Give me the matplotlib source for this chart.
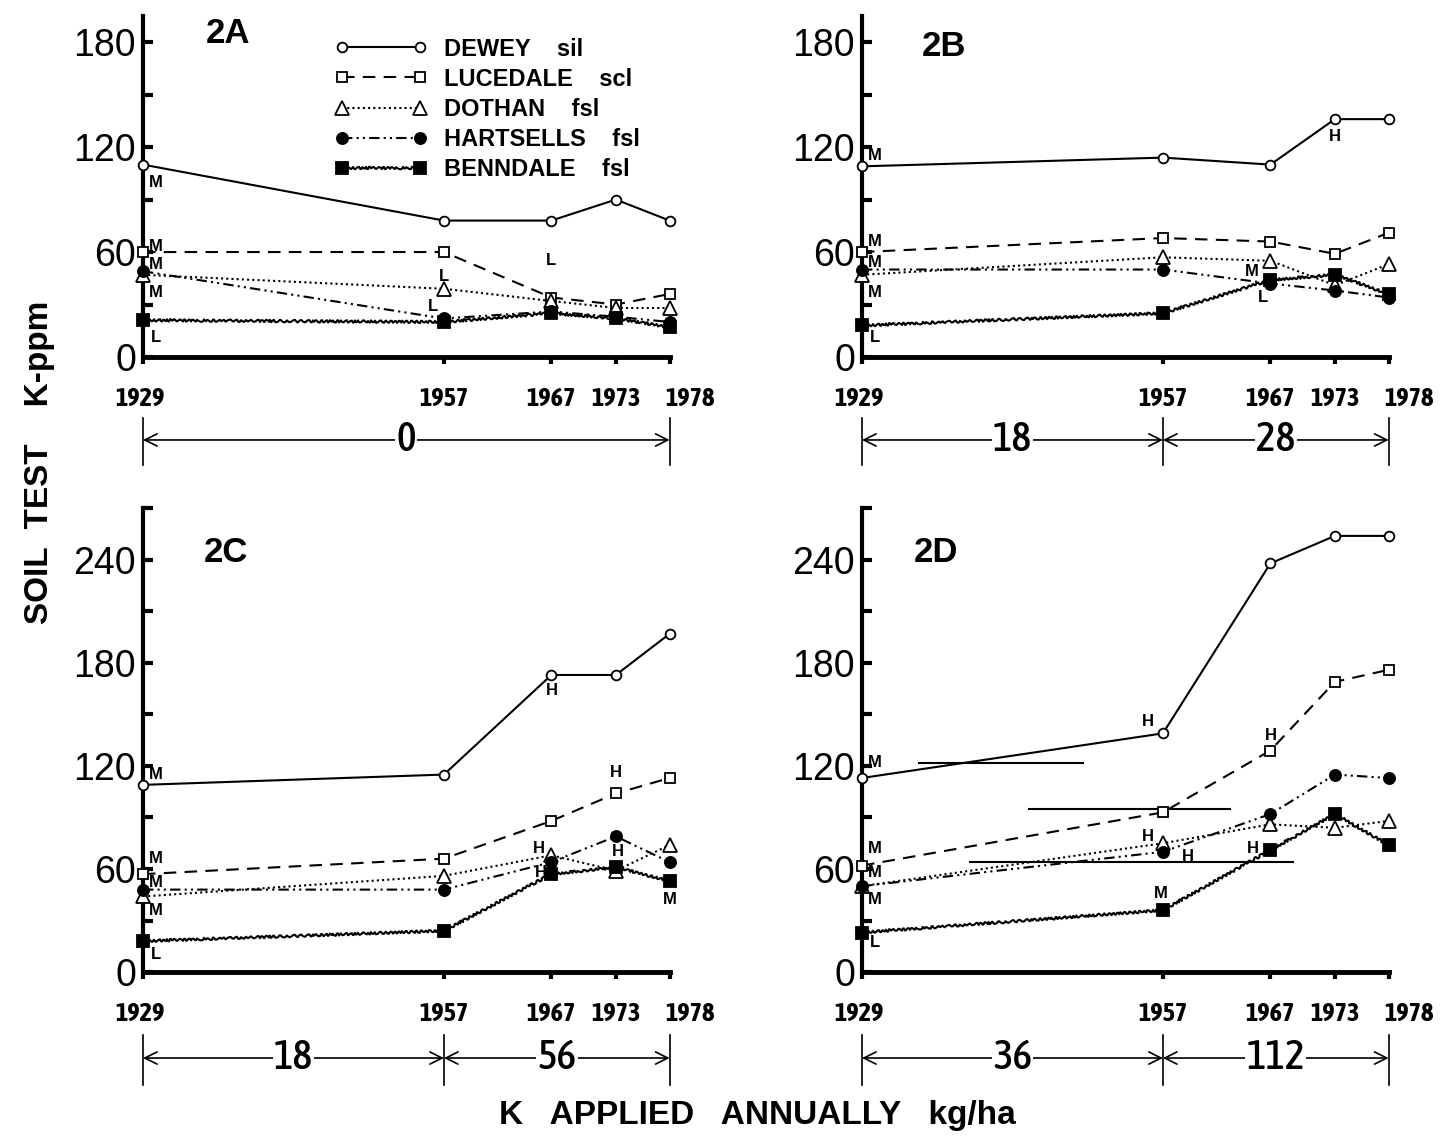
import matplotlib
matplotlib.use("Agg")
import matplotlib.pyplot as plt
from matplotlib import font_manager

names = {f.name for f in font_manager.fontManager.ttflist}
NARROW = "Asap Condensed" if "Asap Condensed" in names else "DejaVu Sans"
plt.rcParams["font.family"] = ["Liberation Sans", "DejaVu Sans"]

years = [1929, 1957, 1967, 1973, 1978]
soils = ["DEWEY", "LUCEDALE", "DOTHAN", "HARTSELLS", "BENNDALE"]
textures = ["sil", "scl", "fsl", "fsl", "fsl"]

# soil test K (ppm), one row per soil in the order above
values_2a = [
    [110, 78, 78, 90, 78],
    [60, 60, 34, 30, 36],
    [47, 39, 32, 28, 28],
    [49, 22, 26, 23, 20],
    [21, 20, 25, 22, 17],
]
values_2b = [
    [109, 114, 110, 136, 136],
    [60, 68, 66, 59, 71],
    [47, 57, 55, 41, 53],
    [50, 50, 42, 38, 34],
    [18, 25, 44, 47, 36],
]
values_2c = [
    [109, 115, 173, 173, 197],
    [57, 66, 88, 104, 113],
    [44, 56, 68, 59, 74],
    [48, 48, 64, 79, 64],
    [18, 24, 57, 61, 53],
]
values_2d = [
    [113, 139, 238, 254, 254],
    [62, 93, 129, 169, 176],
    [50, 75, 86, 84, 88],
    [50, 70, 92, 115, 113],
    [23, 36, 71, 92, 74],
]

# K applied annually (kg/ha) per period
periods_2a = [(1929, 1978, "0")]
periods_2b = [(1929, 1957, "18"), (1957, 1978, "28")]
periods_2c = [(1929, 1957, "18"), (1957, 1978, "56")]
periods_2d = [(1929, 1957, "36"), (1957, 1978, "112")]

# rating letters (year, ppm, letter)
ratings_2a = [(1930.2, 100, "M"), (1930.2, 63, "M"), (1930.2, 53, "M"), (1930.2, 37, "M"),
              (1930.2, 11, "L"), (1957, 46, "L"), (1956, 29, "L"), (1967, 55, "L")]
ratings_2b = [(1930.2, 115, "M"), (1930.2, 66, "M"), (1930.2, 54, "M"), (1930.2, 37, "M"),
              (1930.2, 11, "L"), (1973, 126, "H"), (1965.3, 49, "M"), (1966.3, 34, "L")]
ratings_2c = [(1930.2, 115, "M"), (1930.2, 66, "M"), (1930.2, 52, "M"), (1930.2, 36, "M"),
              (1930.2, 10, "L"), (1967, 164, "H"), (1973, 116, "H"), (1965.8, 72, "H"),
              (1966, 58, "H"), (1973.2, 70, "H"), (1978, 42, "M")]
ratings_2d = [(1930.2, 122, "M"), (1930.2, 72, "M"), (1930.2, 58, "M"), (1930.2, 42, "M"),
              (1930.2, 17, "L"), (1955.6, 146, "H"), (1967, 138, "H"), (1955.6, 79, "H"),
              (1959.3, 67, "H"), (1956.8, 46, "M"), (1965.4, 72, "H")]

# horizontal reference segments in 2D (ppm, from year, to year)
segments_2d = [(122, 1934.2, 1949.7), (95, 1944.4, 1963.3), (64, 1939.0, 1969.2)]

styles = [
    dict(ls="-", marker="o", mfc="white", ms=7),
    dict(ls=(0, (6, 4)), marker="s", mfc="white", ms=7),
    dict(ls=(0, (1, 1.5)), marker="^", mfc="white", ms=10),
    dict(ls=(0, (5, 2, 1, 2, 1, 2)), marker="o", mfc="black", ms=8),
    dict(ls="-", marker="s", mfc="black", ms=9),
]

fig = plt.figure(figsize=(14.43, 11.39), dpi=100)

W = 532 / 1443
panels = [
    ("2A", values_2a, periods_2a, ratings_2a, [143 / 1443, 0.6866, W, 341 / 1139], 195, (0.16, 0.95)),
    ("2B", values_2b, periods_2b, ratings_2b, [862 / 1443, 0.6866, W, 341 / 1139], 195, (0.155, 0.91)),
    ("2C", values_2c, periods_2c, ratings_2c, [143 / 1443, 0.1466, W, 463.6 / 1139], 270, (0.155, 0.905)),
    ("2D", values_2d, periods_2d, ratings_2d, [862 / 1443, 0.1466, W, 463.6 / 1139], 270, (0.14, 0.905)),
]

axes = {}
for name, vals, periods, ratings, rect, ytop, labpos in panels:
    ax = fig.add_axes(rect)
    axes[name] = ax
    for soil, tex, row, st in zip(soils, textures, vals, styles):
        ln, = ax.plot(years, row, color="black", lw=1.5, mec="black", mew=1.3,
                      clip_on=False, zorder=3, label=f"{soil}    {tex}", **st)
        if soil == "BENNDALE":
            ln.set_sketch_params(1.2, 6, 3)

    ax.set_xlim(1929, 1978.5)
    ax.set_ylim(0, ytop)
    ax.spines["top"].set_visible(False)
    ax.spines["right"].set_visible(False)
    ax.spines["left"].set_linewidth(3)
    ax.spines["bottom"].set_linewidth(3.5)
    ax.spines["bottom"].set_bounds(1929, 1978)
    ax.set_yticks(range(0, ytop, 60))
    ax.set_yticks(range(0, ytop + 1, 30), minor=True)
    ax.tick_params(axis="y", which="both", direction="in", length=7, width=3,
                   labelsize=27, pad=5)
    ax.set_xticks(years)
    ax.set_xticklabels([])
    ax.tick_params(axis="x", direction="out", length=5, width=3)

    tr = ax.get_xaxis_transform()
    for yr in years:
        dx = 15 if yr == 1978 else (-2 if yr == 1929 else 0)
        ax.annotate(str(yr), (yr, 0), xycoords=tr, xytext=(dx, -21),
                    textcoords="offset points", ha="center", va="top",
                    fontsize=19, fontweight="bold", family=NARROW)

    h = rect[3] * 1139
    y_arrow = -83 / h if ytop < 200 else -86 / h
    y_b0 = -61 / h if ytop < 200 else -63 / h
    y_b1 = -108 / h if ytop < 200 else -113 / h
    bounds = sorted({p[0] for p in periods} | {p[1] for p in periods})
    for b in bounds:
        ax.plot([b, b], [y_b0, y_b1], transform=tr, color="black", lw=1.2, clip_on=False)
    for x0, x1, txt in periods:
        ax.annotate("", xy=(x0, y_arrow), xycoords=tr, xytext=(x1, y_arrow),
                    arrowprops=dict(arrowstyle="<->", lw=1.2, color="black",
                                    shrinkA=0, shrinkB=0, mutation_scale=22))
        ax.text((x0 + x1) / 2, y_arrow, txt, transform=tr, ha="center", va="center",
                fontsize=30, family=NARROW, fontweight="medium",
                bbox=dict(facecolor="white", edgecolor="none", pad=1))

    for yr, v, letter in ratings:
        ax.text(yr, v, letter, ha="center", va="center", fontsize=12,
                fontweight="bold", zorder=4)

    ax.text(labpos[0], labpos[1], name, transform=ax.transAxes, fontsize=25,
            fontweight="bold", ha="center", va="center")

for v, x0, x1 in segments_2d:
    axes["2D"].hlines(v, x0, x1, color="black", lw=1.5, zorder=2)

leg = axes["2A"].legend(loc="upper left", bbox_to_anchor=(0.33, 0.985), frameon=False,
                        numpoints=2, handlelength=3.9, labelspacing=0.3,
                        handletextpad=0.7, borderaxespad=0.3,
                        prop=dict(size=17, weight="bold"))
for ln in leg.get_lines():
    if ln.get_label().startswith("BENNDALE"):
        ln.set_sketch_params(1.2, 6, 3)

fig.text(40 / 1443, 0.594, "SOIL  TEST    K-ppm", rotation=90, ha="center", va="center",
         fontsize=24, fontweight="bold")
fig.text(757 / 1443, 0.021, "K   APPLIED   ANNUALLY   kg/ha", ha="center", va="center",
         fontsize=24, fontweight="bold")

fig.savefig("out.png", dpi=100)
